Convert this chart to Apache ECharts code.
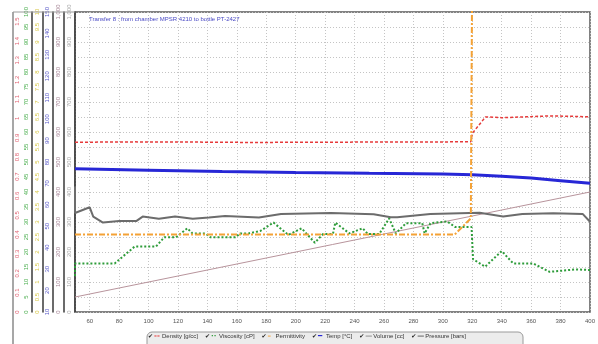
<!DOCTYPE html>
<html><head><meta charset="utf-8">
<script src="https://cdn.jsdelivr.net/npm/echarts@6/dist/echarts.min.js"></script>
<style>html,body{margin:0;padding:0;background:#fff}#c{width:598px;height:344px}</style>
</head><body><div id="c"></div>
<script>
const titleText = 'Transfer 8 : from chamber MPSR 4210 to bottle PT-2427';
const seriesNames = ['Density [g/cc]', 'Viscosity [cP]', 'Permittivity', 'Temp [°C]', 'Volume [cc]', 'Pressure [bars]'];

// x axis (volume transferred)
const xMin = 50, xMax = 400, xStep = 20;

// axis ranges
const densityAxis = [0, 1.55, 0.1];
const viscosityAxis = [0, 100, 5];
const permAxis = [0, 10, 0.5];
const tempAxis = [10, 150, 10];
const volumeAxis = [0, 1000, 100];
const pressureAxis = [0, 1000, 100];

const densityX = [50, 90, 130, 170, 210, 250, 290, 319, 320, 329, 340, 355, 372, 388, 400];
const densityY = [0.877, 0.879, 0.878, 0.876, 0.877, 0.878, 0.878, 0.880, 0.923, 1.008, 1.004, 1.008, 1.013, 1.011, 1.008];

const viscosityX = [50, 50, 77, 90.5, 105, 110.7, 118.6, 126.4, 129.8, 138.8, 142, 159, 162.4, 168, 175.9, 184.9, 195, 204, 213, 218.6, 225.3, 226.9, 236.5, 245.5, 249, 256.8, 263.5, 268, 275, 286, 287.6, 291.6, 302.9, 308.5, 319.5, 320.5, 328.7, 340, 347.8, 361.3, 372.5, 390.5, 400];
const viscosityY = [12, 16.2, 16.2, 21.8, 21.8, 24.9, 24.9, 27.9, 26.2, 26.2, 24.9, 24.9, 26.2, 26.2, 27, 29.8, 25.7, 27.9, 23.1, 26, 26, 29.8, 26.2, 27.9, 26, 26, 31.2, 26.2, 29.6, 29.6, 26.2, 29.6, 30.2, 28.3, 28.3, 17.6, 15.1, 20.3, 16.2, 16.2, 13.4, 14.2, 14];

const permX = [50, 308, 319, 320, 320];
const permY = [2.58, 2.58, 3.12, 3.12, 12];

const tempX = [50, 100, 150, 200, 250, 300, 320, 340, 360, 380, 400];
const tempY = [76.8, 76.2, 75.6, 75.1, 74.7, 74.4, 74.1, 73.4, 72.5, 71.3, 70.1];

const volumeX = [50, 400];
const volumeY = [50, 400];

const pressureX = [50, 50, 60, 62.4, 69, 80, 91.6, 96, 107, 118, 130, 141, 152, 175, 190, 224, 253, 264.6, 269, 291.5, 325, 341, 354, 375, 395, 400];
const pressureY = [418, 330, 349, 318, 298, 303, 303, 318, 311, 318, 311, 315, 320, 315, 327, 330, 326, 316, 316, 327, 331, 318, 327, 329, 327, 301];

const colors = {
  density: '#e63a3a', viscosity: '#2e9c3a', perm: '#f4a236', temp: '#2727d6', volume: '#b8949c', pressure: '#6c6c6c'
};
const labelColors = ['#e06070', '#4caf50', '#d8c84a', '#5a5ac8', '#a88898', '#a9a9a9'];

function zip(xs, ys) { return xs.map((x, i) => [x, ys[i]]); }

const FONT = 'Liberation Sans';
function yAx(range, offset, color, extra) {
  return Object.assign({
    type: 'value', position: 'left', min: range[0], max: range[1], interval: range[2], offset: offset,
    axisLine: { show: true, onZero: false, lineStyle: { color: '#3a3a3a', width: 1.5 } },
    axisTick: { show: false },
    splitLine: { show: false },
    axisLabel: { rotate: 90, fontSize: 6, color: color, margin: 3, fontFamily: FONT }
  }, extra || {});
}

const chart = echarts.init(document.getElementById('c'), null, { renderer: 'canvas' });

const legendKeys = ['l0', 'l1', 'l2', 'l3', 'l4', 'l5'];
const legendGlyph = ['--', '··', '–', '━', '—', '—'];
const legendColor = [colors.density, colors.viscosity, colors.perm, colors.temp, '#8a8a8a', '#555555'];
const rich = {
  ck: { width: 6, fontSize: 6, color: '#222', fontFamily: 'DejaVu Sans' },
  t: { width: 41, fontSize: 6, color: '#333', fontFamily: FONT }
};
legendKeys.forEach((k, i) => { rich[k] = { width: 8, fontSize: 7, color: legendColor[i], fontFamily: 'DejaVu Sans', fontWeight: 'bold' }; });

chart.setOption({
  animation: false,
  backgroundColor: '#ffffff',
  title: { text: titleText, left: 84, top: 11, textStyle: { fontSize: 6, fontWeight: 'normal', color: '#4a4ac4', fontFamily: FONT } },
  grid: { left: 75, right: 4, top: 12, bottom: 32, show: true, borderColor: '#5a5a5a', borderWidth: 1.5, backgroundColor: '#fff' },
  legend: {
    left: 143, top: 333, padding: 0, itemGap: 2, itemWidth: 0, itemHeight: 0, icon: 'rect', z: 20,
    selectedMode: false,
    data: seriesNames,
    formatter: function (name) { const i = seriesNames.indexOf(name); return '{ck|✔}{' + legendKeys[i] + '|' + legendGlyph[i] + '}{t|' + name + '}'; },
    textStyle: { rich: rich, fontSize: 6 }
  },
  graphic: [
    { type: 'rect', z: 1, shape: { x: 147, y: 332, width: 376, height: 22, r: 5 }, style: { fill: '#ececec', stroke: '#9a9a9a', lineWidth: 1 } },
    { type: 'line', z: 1, shape: { x1: 13, y1: 12, x2: 13, y2: 344 }, style: { stroke: '#8a8a8a', lineWidth: 1.5 } },
    { type: 'line', z: 1, shape: { x1: 13, y1: 12, x2: 75, y2: 12 }, style: { stroke: '#9a9a9a', lineWidth: 1 } }
  ],
  xAxis: {
    type: 'value', min: xMin, max: xMax, minInterval: xStep, maxInterval: xStep, splitNumber: 18,
    axisLine: { show: false }, axisTick: { show: false },
    axisLabel: { fontSize: 6, color: '#555', margin: 6, fontFamily: FONT, showMinLabel: false },
    splitLine: { show: true, lineStyle: { color: '#c4c4c4', type: [1, 2], width: 1 } }
  },
  yAxis: [
    yAx(densityAxis, 52, labelColors[0], { axisLine: { show: false }, axisLabel: { rotate: 90, fontSize: 6, color: labelColors[0], margin: 3, fontFamily: FONT, showMaxLabel: false } }),
    yAx(viscosityAxis, 43, labelColors[1], { splitLine: { show: true, lineStyle: { color: '#c4c4c4', type: [1, 2], width: 1 } } }),
    yAx(permAxis, 32, labelColors[2]),
    yAx(tempAxis, 22, labelColors[3]),
    yAx(volumeAxis, 11, labelColors[4]),
    yAx(pressureAxis, 0, labelColors[5])
  ],
  series: [
    { name: seriesNames[4], type: 'line', yAxisIndex: 4, showSymbol: false, data: zip(volumeX, volumeY), lineStyle: { color: colors.volume, width: 1 }, itemStyle: { color: colors.volume } },
    { name: seriesNames[5], type: 'line', yAxisIndex: 5, showSymbol: false, data: zip(pressureX, pressureY), lineStyle: { color: colors.pressure, width: 2 }, itemStyle: { color: colors.pressure } },
    { name: seriesNames[1], type: 'line', yAxisIndex: 1, showSymbol: false, data: zip(viscosityX, viscosityY), lineStyle: { color: colors.viscosity, width: 2, type: [2, 2] }, itemStyle: { color: colors.viscosity } },
    { name: seriesNames[0], type: 'line', yAxisIndex: 0, showSymbol: false, data: zip(densityX, densityY), lineStyle: { color: colors.density, width: 1.5, type: [3, 2] }, itemStyle: { color: colors.density } },
    { name: seriesNames[3], type: 'line', yAxisIndex: 3, showSymbol: false, data: zip(tempX, tempY), lineStyle: { color: colors.temp, width: 3 }, itemStyle: { color: colors.temp } },
    { name: seriesNames[2], type: 'line', yAxisIndex: 2, showSymbol: false, data: zip(permX, permY), lineStyle: { color: colors.perm, width: 2, type: [6, 2, 2, 2] }, itemStyle: { color: colors.perm } }
  ]
});
</script>
</body></html>
